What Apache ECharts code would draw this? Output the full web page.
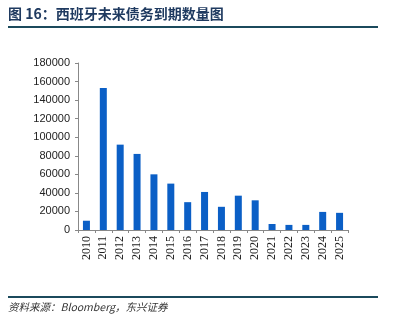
<!DOCTYPE html>
<html><head><meta charset="utf-8">
<script src="https://cdn.jsdelivr.net/npm/echarts@6/dist/echarts.min.js"></script>
<style>html,body{margin:0;padding:0;background:#fff}#c{width:400px;height:324px}</style>
</head><body><div id="c"></div>
<script>
var titleText = '图 16：西班牙未来债务到期数量图';
var sourceText = '资料来源：Bloomberg，东兴证券';
var categories = ['2010','2011','2012','2013','2014','2015','2016','2017','2018','2019','2020','2021','2022','2023','2024','2025'];
var values = [10000,153000,92000,82000,60000,50000,30000,41000,25000,37000,32000,6500,5500,5500,19500,18500];
var yTicks = [0,20000,40000,60000,80000,100000,120000,140000,160000,180000];

var chart = echarts.init(document.getElementById('c'));
chart.setOption({
  animation:false,
  backgroundColor:'#fff',
  graphic:[
    {type:'text',left:8,top:7,style:{text:titleText,font:'bold 14px "Noto Sans CJK SC"',fill:'#1f3a60'}},
    {type:'rect',shape:{x:8,y:26,width:370,height:2},style:{fill:'#1b4a5c'}},
    {type:'rect',shape:{x:8,y:296,width:370,height:2},style:{fill:'#1b4a5c'}},
    {type:'text',left:8,top:302,style:{text:sourceText,font:'italic 10.5px "Noto Sans CJK SC"',fill:'#333'}}
  ],
  grid:{left:78,right:52,top:63,bottom:94},
  xAxis:{type:'category',data:categories,
    axisLine:{lineStyle:{color:'#888',width:1}},
    axisTick:{show:true,alignWithLabel:false,length:3,lineStyle:{color:'#888'}},
    axisLabel:{rotate:90,interval:0,color:'#222',fontFamily:'Liberation Serif',fontSize:12,margin:6}},
  yAxis:{type:'value',min:yTicks[0],max:yTicks[yTicks.length-1],interval:yTicks[1]-yTicks[0],
    axisLine:{show:true,lineStyle:{color:'#888'}},
    axisTick:{show:true,length:3,lineStyle:{color:'#888'}},
    splitLine:{show:false},
    axisLabel:{color:'#222',fontFamily:'Liberation Sans',fontSize:11,margin:8,formatter:function(v){return String(v);}}},
  series:[{type:'bar',data:values,barWidth:7,itemStyle:{color:'#0b5fc6'}}]
});
</script></body></html>
